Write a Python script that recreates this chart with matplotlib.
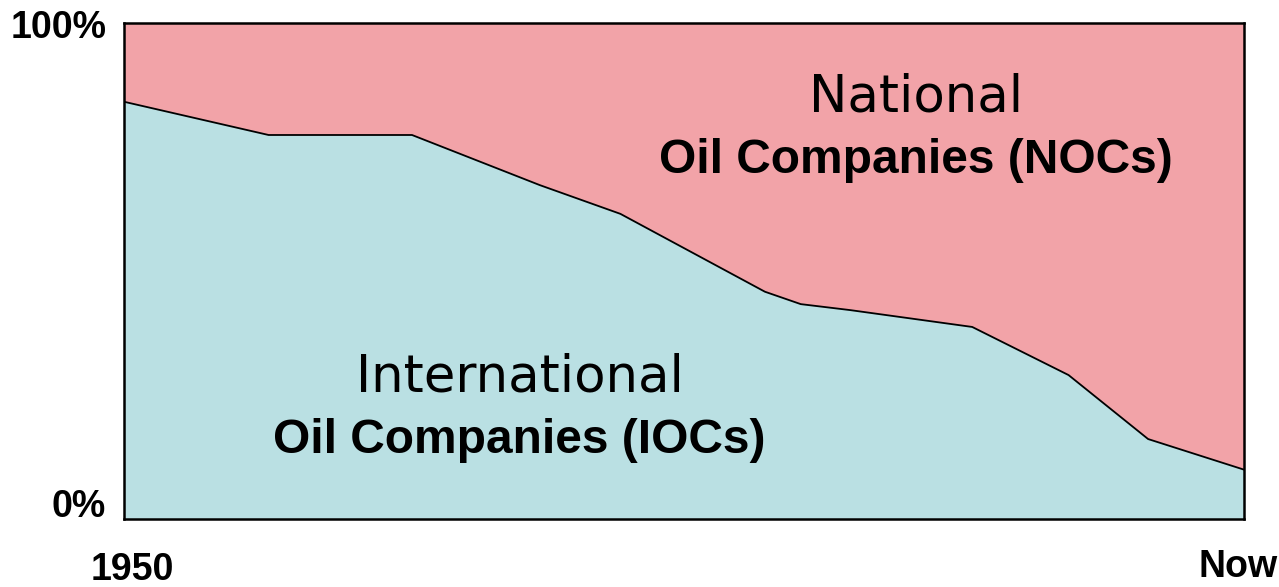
import numpy as np
import matplotlib.pyplot as plt

plt.rcParams['font.family'] = ['Liberation Sans', 'DejaVu Sans']

# share of oil reserves held by IOCs over time (0 = 1950, 100 = now)
time_pos = [0, 12.9, 25.7, 37.1, 44.3, 57.2, 60.4, 64.8, 75.7, 84.3, 91.4, 100]
ioc_share = [84.1, 77.4, 77.4, 67.3, 61.5, 45.8, 43.3, 42.1, 38.7, 29.0, 16.1, 9.9]
noc_share = [100 - v for v in ioc_share]

x_labels = ['1950', 'Now']
y_labels = ['0%', '100%']

ioc_color = '#bae0e3'
noc_color = '#f2a3a8'

fig = plt.figure(figsize=(12.79, 5.87), dpi=100)
ax = fig.add_axes([0.097, 0.116, 0.876, 0.845])

ax.stackplot(time_pos, ioc_share, noc_share, colors=[ioc_color, noc_color], linewidth=0)
ax.plot(time_pos, ioc_share, color='black', linewidth=1.3)

ax.set_xlim(0, 100)
ax.set_ylim(0, 100)
ax.set_xticks([])
ax.set_yticks([])
for s in ax.spines.values():
    s.set_linewidth(1.8)

# axis end labels
ax.text(-0.016, 0.99, y_labels[1], transform=ax.transAxes, ha='right', va='center',
        fontsize=27, fontweight='bold')
ax.text(-0.016, 0.024, y_labels[0], transform=ax.transAxes, ha='right', va='center',
        fontsize=27, fontweight='bold')
ax.text(0.0075, -0.103, x_labels[0], transform=ax.transAxes, ha='center', va='center',
        fontsize=27, fontweight='bold')
ax.text(0.994, -0.097, x_labels[1], transform=ax.transAxes, ha='center', va='center',
        fontsize=27, fontweight='bold')

# region labels
ax.text(70.7, 85.0, 'National', ha='center', va='center', fontsize=37,
        family=['DejaVu Sans'])
ax.text(70.7, 72.2, 'Oil Companies (NOCs)', ha='center', va='center',
        fontsize=34.5, fontweight='bold')
ax.text(35.3, 28.5, 'International', ha='center', va='center', fontsize=37,
        family=['DejaVu Sans'])
ax.text(35.3, 15.8, 'Oil Companies (IOCs)', ha='center', va='center',
        fontsize=34.5, fontweight='bold')

fig.savefig('out.png', dpi=100)
